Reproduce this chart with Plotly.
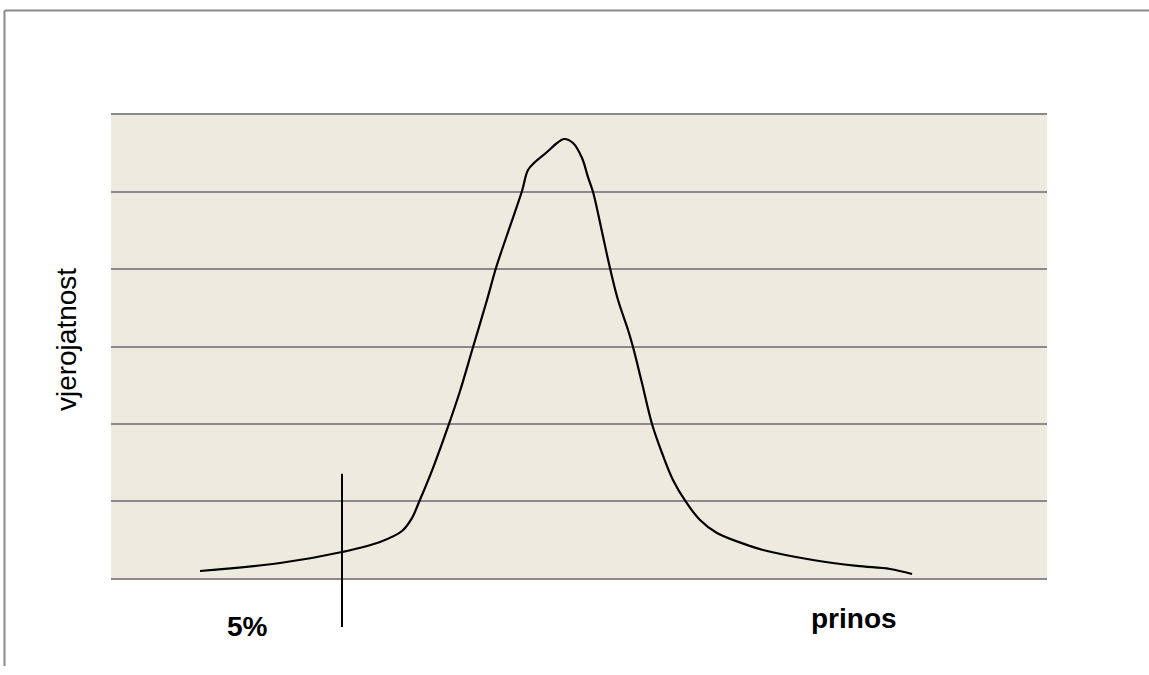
import plotly.graph_objects as go

# Curve (x: return, arbitrary units; y: probability, arbitrary units)
ret_x = [0.951, 1.806, 2.468, 2.874, 3.109, 3.216, 3.291, 3.440, 3.611, 3.729, 3.868,
         4.017, 4.113, 4.231, 4.391, 4.455, 4.530, 4.658, 4.765, 4.840, 4.936, 5.032,
         5.096, 5.150, 5.246, 5.331, 5.417, 5.524, 5.577, 5.673, 5.780, 5.887, 6.004,
         6.143, 6.293, 6.474, 6.827, 6.966, 7.500, 7.970, 8.323, 8.558]
prob_y = [0.091, 0.194, 0.337, 0.467, 0.609, 0.778, 0.985, 1.425, 1.996, 2.423, 2.993,
          3.602, 4.017, 4.445, 5.015, 5.287, 5.391, 5.520, 5.637, 5.689, 5.637, 5.443,
          5.196, 5.002, 4.484, 4.017, 3.602, 3.214, 2.993, 2.527, 1.996, 1.620, 1.270,
          0.985, 0.752, 0.583, 0.415, 0.363, 0.233, 0.156, 0.117, 0.052]
cutoff_5pct = 2.468
x_range = [0, 10]
y_range = [0, 6]
y_title = "vjerojatnost"
x_label = "prinos"
cut_label = "5%"

FONT = "Arial, Liberation Sans, sans-serif"
GRID = "#8A8A8A"

fig = go.Figure()
fig.add_trace(go.Scatter(
    x=ret_x, y=prob_y, mode="lines",
    line=dict(color="black", width=2.2, shape="spline", smoothing=1.0),
    hoverinfo="skip", showlegend=False,
))

# vertical 5% cutoff line (extends below the plot area)
fig.add_shape(type="line", xref="x", yref="paper",
              x0=cutoff_5pct, x1=cutoff_5pct, y0=-0.106, y1=0.225,
              line=dict(color="black", width=2))

# outer chart border (top and left edges visible)
fig.add_shape(type="line", xref="paper", yref="paper",
              x0=-0.1138, x1=1.12, y0=1.2257, y1=1.2257,
              line=dict(color="#8A8A8A", width=2))
fig.add_shape(type="line", xref="paper", yref="paper",
              x0=-0.1138, x1=-0.1138, y0=1.2257, y1=-0.19,
              line=dict(color="#8A8A8A", width=2))

fig.add_annotation(text=y_title, xref="paper", yref="paper", x=-0.048, y=0.514,
                   textangle=-90, showarrow=False, xanchor="center", yanchor="middle",
                   font=dict(family=FONT, size=28, color="black"))
fig.add_annotation(text="<b>%s</b>" % cut_label, xref="paper", yref="paper",
                   x=(247.5 - 111) / 936, y=-0.105, showarrow=False,
                   xanchor="center", yanchor="middle",
                   font=dict(family=FONT, size=28, color="black"))
fig.add_annotation(text="<b>%s</b>" % x_label, xref="paper", yref="paper",
                   x=(853.5 - 111) / 936, y=-0.088, showarrow=False,
                   xanchor="center", yanchor="middle",
                   font=dict(family=FONT, size=28, color="black"))

fig.update_layout(
    width=1149, height=675,
    margin=dict(l=111, r=102, t=115, b=97),
    paper_bgcolor="white",
    plot_bgcolor="#EDEAE0",
    font=dict(family=FONT, color="black"),
    showlegend=False,
    xaxis=dict(range=x_range, showgrid=False, zeroline=False, showticklabels=False,
               ticks="", showline=True, mirror=True, linecolor=GRID, linewidth=2),
    yaxis=dict(range=y_range, dtick=1, showgrid=True, gridcolor=GRID, gridwidth=2,
               zeroline=False, showticklabels=False, ticks="", showline=False),
)

fig.write_html("out.html",
               config={"displayModeBar": False},
               post_script="document.body.style.margin='0';document.body.style.overflow='hidden';")
